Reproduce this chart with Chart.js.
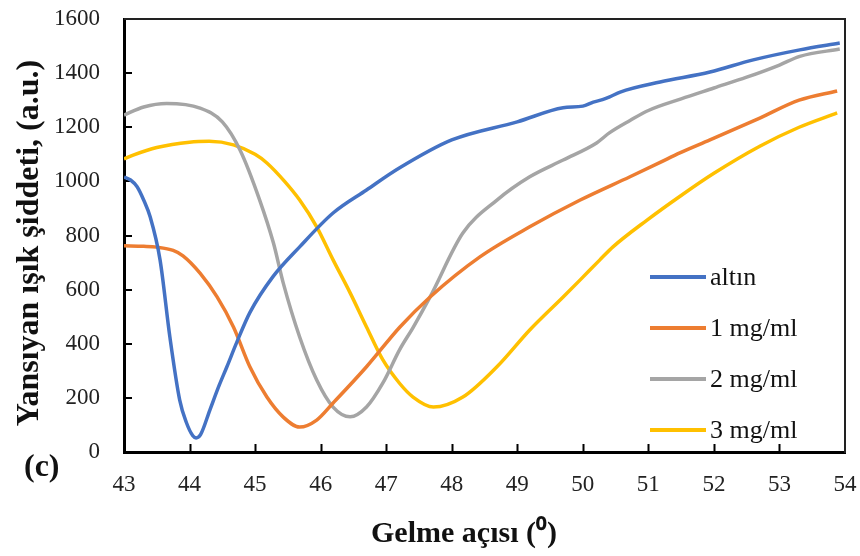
<!DOCTYPE html>
<html>
<head>
<meta charset="utf-8">
<script src="https://cdn.jsdelivr.net/npm/chart.js@4.4.1/dist/chart.umd.min.js"></script>
<style>
  html, body { margin: 0; padding: 0; background: #fff; }
  #spr { display: block; }
</style>
</head>
<body>
<canvas id="spr" width="860" height="556"></canvas>
<script>
// Yansıma eğrileri: gelme açısı (derece) ve ışık şiddeti (a.u.)
const altinAngle = [43, 43.1, 43.2, 43.3, 43.4, 43.55, 43.7, 43.85, 43.95, 44.05, 44.1, 44.17, 44.31, 44.45, 44.57, 44.72, 44.92, 45.27, 45.68, 46.19, 46.7, 47.2, 48, 49, 49.7, 50.0, 50.16, 50.3, 50.41, 50.57, 51.18, 51.94, 52.6, 53.31, 53.92];
const altin      = [1016, 1005, 980, 931, 868, 710, 425, 192, 110, 60, 52, 65, 155, 245, 315, 405, 515, 647, 758, 883, 968, 1049, 1153, 1220, 1272, 1278, 1293, 1302, 1312, 1330, 1367, 1404, 1449, 1486, 1511];

const oneAngle = [43, 43.3, 43.5, 43.75, 43.9, 44.16, 44.42, 44.67, 44.92, 45.18, 45.43, 45.68, 45.94, 46.19, 46.7, 47.21, 47.67, 48.43, 49.19, 49.96, 50.72, 51.18, 51.48, 51.94, 52.7, 53.3, 53.88];
const one      = [762, 760, 757, 745, 725, 661, 573, 462, 315, 203, 129, 92, 118, 181, 315, 462, 573, 721, 832, 931, 1017, 1070, 1105, 1153, 1234, 1300, 1334];

const twoAngle = [43, 43.3, 43.65, 44.16, 44.5, 44.77, 45.07, 45.28, 45.43, 45.68, 45.94, 46.19, 46.45, 46.7, 46.95, 47.21, 47.41, 47.67, 48.17, 48.69, 49.19, 49.7, 50.21, 50.41, 50.72, 51.0, 51.5, 52.0, 52.5, 53.0, 53.31, 53.92];
const two      = [1245, 1275, 1288, 1271, 1220, 1116, 931, 772, 624, 425, 266, 166, 130, 166, 255, 380, 460, 573, 809, 931, 1017, 1079, 1142, 1180, 1225, 1262, 1305, 1345, 1385, 1430, 1462, 1489];

const threeAngle = [43, 43.14, 43.5, 44.0, 44.3, 44.67, 45.0, 45.18, 45.45, 45.68, 45.94, 46.19, 46.45, 46.7, 46.95, 47.2, 47.41, 47.72, 48.17, 48.69, 49.19, 49.7, 49.96, 50.26, 50.46, 50.98, 51.5, 52.0, 52.7, 53.3, 53.88];
const three      = [1083, 1097, 1125, 1145, 1148, 1135, 1100, 1068, 1000, 931, 832, 710, 588, 462, 340, 255, 203, 166, 203, 315, 451, 573, 636, 710, 758, 857, 948, 1030, 1130, 1200, 1253];

const seriesNames = ['altın', '1 mg/ml', '2 mg/ml', '3 mg/ml'];
const seriesColors = ['#4472C4', '#ED7D31', '#A5A5A5', '#FFC000'];

const xTitle = 'Gelme açısı (⁰)';
const yTitle = 'Yansıyan ışık şiddeti, (a.u.)';
const panelTag = '(c)';

const FONT = '"Liberation Serif", "Times New Roman", serif';

function toPoints(xs, ys) {
    return xs.map((x, i) => ({ x: x, y: ys[i] }));
}

// eksen boyutlarını sabitle, etiket taşması alanı küçültmesin
function fixScale(w, h) {
    return function (scale) {
        if (w != null) scale.width = w;
        if (h != null) scale.height = h;
        scale.paddingTop = 0;
        scale.paddingBottom = 0;
        scale.paddingLeft = 0;
        scale.paddingRight = 0;
    };
}

// iç tik çizgileri ve üst/sağ çerçeve
const frameTicks = {
    id: 'frameTicks',
    beforeDatasetsDraw(chart) {
        const { ctx, chartArea: a, scales } = chart;
        ctx.save();
        ctx.strokeStyle = '#000';
        ctx.lineWidth = 2;
        ctx.beginPath();
        for (let v = 44; v < 54; v++) {
            const px = Math.round(scales.x.getPixelForValue(v)) + 0.5;
            ctx.moveTo(px, a.bottom);
            ctx.lineTo(px, a.bottom - 8);
        }
        for (let v = 200; v < 1600; v += 200) {
            const py = Math.round(scales.y.getPixelForValue(v));
            ctx.moveTo(a.left, py);
            ctx.lineTo(a.left + 8, py);
        }
        ctx.stroke();
        ctx.restore();
    },
    afterDraw(chart) {
        const { ctx, chartArea: a } = chart;
        ctx.save();
        ctx.strokeStyle = '#222';
        ctx.lineWidth = 2;
        ctx.beginPath();
        ctx.moveTo(a.left, a.top);
        ctx.lineTo(a.right, a.top);
        ctx.lineTo(a.right, a.bottom + 1);
        ctx.stroke();
        ctx.restore();
    }
};

// lejant: grafiğin içinde sağ altta
const insideLegend = {
    id: 'insideLegend',
    afterDraw(chart) {
        const { ctx, chartArea: a } = chart;
        const x0 = a.right - 195;
        const y0 = a.top + 258;
        ctx.save();
        ctx.font = '26px ' + FONT;
        ctx.textBaseline = 'middle';
        ctx.textAlign = 'left';
        chart.data.datasets.forEach((ds, i) => {
            const y = y0 + i * 51;
            ctx.strokeStyle = ds.borderColor;
            ctx.lineWidth = 4;
            ctx.beginPath();
            ctx.moveTo(x0, y);
            ctx.lineTo(x0 + 56, y);
            ctx.stroke();
            ctx.fillStyle = '#111';
            ctx.fillText(ds.label, x0 + 60, y + 1);
        });
        ctx.restore();
    }
};

// eksen başlıkları ve panel etiketi
const titles = {
    id: 'titles',
    afterDraw(chart) {
        const { ctx } = chart;
        ctx.save();
        ctx.fillStyle = '#111';
        ctx.textAlign = 'center';
        ctx.textBaseline = 'alphabetic';
        ctx.font = 'bold 30px ' + FONT;
        ctx.fillText(xTitle, 464, 542);
        ctx.font = 'bold 32px ' + FONT;
        ctx.translate(38, 243);
        ctx.rotate(-Math.PI / 2);
        ctx.fillText(yTitle, 0, 0);
        ctx.restore();

        ctx.save();
        ctx.fillStyle = '#111';
        ctx.font = 'bold 32px ' + FONT;
        ctx.textAlign = 'left';
        ctx.textBaseline = 'middle';
        ctx.fillText(panelTag, 24, 468);
        ctx.restore();
    }
};

const seriesX = [altinAngle, oneAngle, twoAngle, threeAngle];
const seriesY = [altin, one, two, three];

new Chart(document.getElementById('spr'), {
    type: 'line',
    data: {
        datasets: seriesNames.map((name, i) => ({
            label: name,
            data: toPoints(seriesX[i], seriesY[i]),
            borderColor: seriesColors[i],
            backgroundColor: seriesColors[i],
            borderWidth: 3.5,
            pointRadius: 0,
            cubicInterpolationMode: 'monotone',
            fill: false
        }))
    },
    options: {
        responsive: false,
        animation: false,
        layout: { padding: { top: 19, right: 15, left: 0, bottom: 0 } },
        plugins: {
            legend: { display: false },
            tooltip: { enabled: false }
        },
        scales: {
            x: {
                type: 'linear',
                min: 43,
                max: 54,
                ticks: { stepSize: 1, padding: 19, color: '#222', font: { family: FONT, size: 23 } },
                grid: { display: false, drawTicks: false },
                border: { display: true, color: '#000', width: 3 },
                afterFit: fixScale(null, 104)
            },
            y: {
                min: 0,
                max: 1600,
                ticks: {
                    stepSize: 200,
                    padding: 24,
                    color: '#222',
                    font: { family: FONT, size: 23 },
                    callback: v => String(v)
                },
                grid: { display: false, drawTicks: false },
                border: { display: true, color: '#000', width: 3 },
                afterFit: fixScale(124, null)
            }
        }
    },
    plugins: [frameTicks, insideLegend, titles]
});
</script>
</body>
</html>
